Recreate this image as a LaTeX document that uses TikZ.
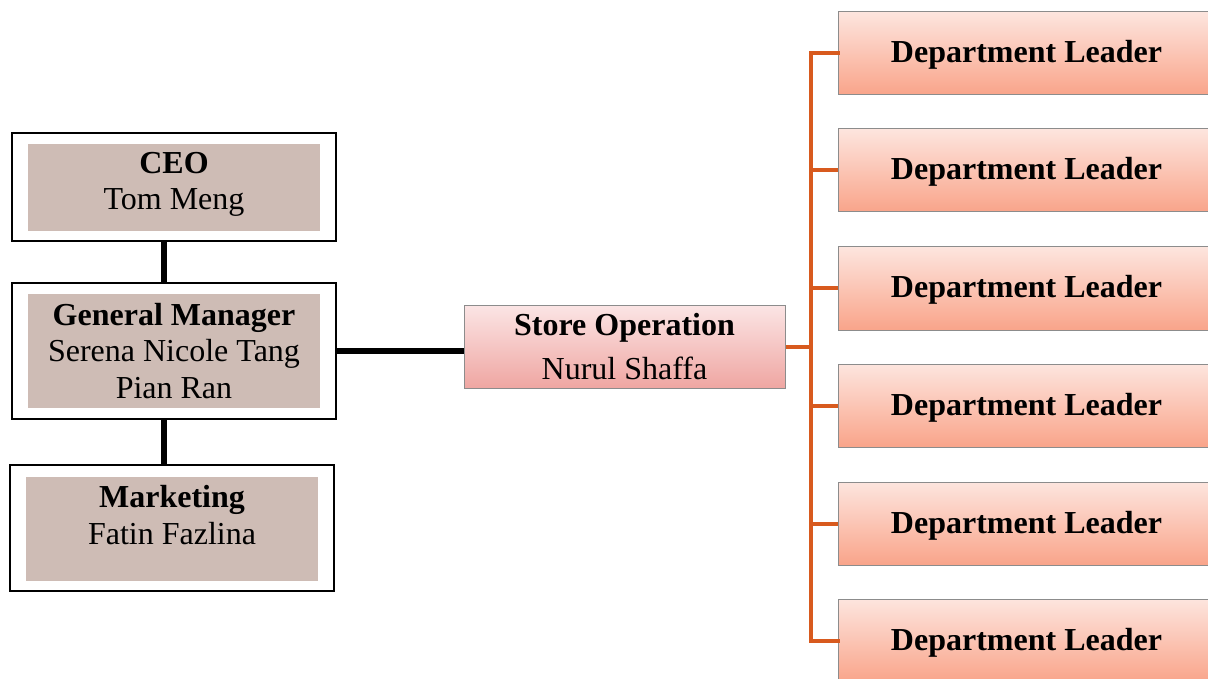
\documentclass[tikz,border=0pt]{standalone}
\usepackage{fontspec}
\setmainfont{Liberation Serif}
\definecolor{stafffill}{RGB}{206,188,181}
\definecolor{storetop}{RGB}{251,229,229}
\definecolor{storebot}{RGB}{239,166,162}
\definecolor{depttop}{RGB}{253,229,222}
\definecolor{deptbot}{RGB}{249,164,138}
\definecolor{branch}{RGB}{216,90,30}
\definecolor{edgegray}{RGB}{140,140,140}
\tikzset{
  outerbox/.style={draw=black, line width=2pt, fill=white, minimum width=324pt, inner sep=0pt},
  innerfill/.style={fill=stafffill, minimum width=292pt, inner sep=0pt},
  lbl/.style={align=center, font=\fontsize{32}{36.5}\selectfont, inner sep=0pt},
  storebox/.style={draw=edgegray, line width=1pt, top color=storetop, bottom color=storebot,
    minimum width=321pt, minimum height=83pt, align=center, inner sep=0pt,
    font=\fontsize{32}{44}\selectfont},
  deptbox/.style={draw=edgegray, line width=1pt, top color=depttop, bottom color=deptbot,
    minimum width=376pt, minimum height=83pt, inner sep=0pt,
    text height=25pt, text depth=6pt,
    font=\fontsize{32}{36}\selectfont\bfseries},
  blackline/.style={line width=6.5pt, black},
  orangeline/.style={line width=4pt, branch},
}
\begin{document}
\begin{tikzpicture}[x=1pt, y=-1pt]
\useasboundingbox (0,0) rectangle (1208,679);
\clip (0,0) rectangle (1208,679);

% left column: management
\node[outerbox, minimum height=108pt] (ceo) at (174,187) {};
\node[innerfill, minimum height=87pt] (ceoin) at (174,187.5) {};
\node[lbl] (ceot) at (174,184.5) {\textbf{CEO}\\Tom Meng};

\node[outerbox, minimum height=136pt] (gm) at (174,351) {};
\node[innerfill, minimum height=114pt] (gmin) at (174,351) {};
\node[lbl] (gmt) at (174,351) {\textbf{General Manager}\\Serena Nicole Tang\\Pian Ran};

\node[outerbox, minimum height=126pt] (mkt) at (172,528) {};
\node[innerfill, minimum height=104pt] (mktin) at (172,529) {};
\node[lbl] (mktt) at (172,515) {\textbf{Marketing}\\Fatin Fazlina};

\draw[blackline] ([xshift=-10pt]ceo.south) -- ([xshift=-10pt]gm.north);
\draw[blackline] ([xshift=-10pt]gm.south) -- ([xshift=-8pt]mkt.north);

% store operation
\node[storebox] (store) at (624.5,346.5) {\textbf{Store Operation}\\Nurul Shaffa};
\draw[blackline] (gm.east) -- (gm.east -| store.west);

% department leaders
\foreach \i/\t in {1/12,2/129,3/247,4/364,5/482,6/599}{
  \node[deptbox] (d\i) at (1026.5,\t+41.5) {Department Leader};
}
\coordinate (bus) at (811,0);
\draw[orangeline] (store.east) -- (store.east -| bus);
\draw[orangeline, line cap=rect] (d1.west) -- (d1.west -| bus) -- (d6.west -| bus) -- (d6.west);
\foreach \i in {2,3,4,5}{
  \draw[orangeline] (d\i.west -| bus) -- (d\i.west);
}
\end{tikzpicture}
\end{document}
